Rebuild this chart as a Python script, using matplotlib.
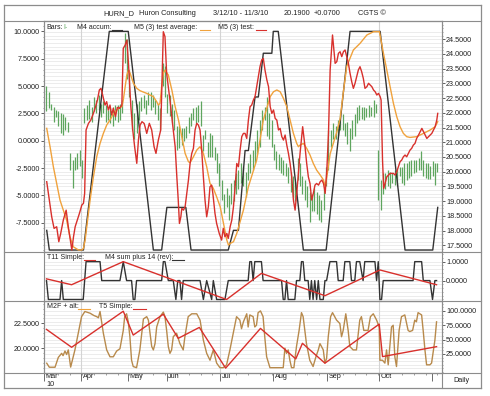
import numpy as np
import matplotlib
matplotlib.use("Agg")
import matplotlib.pyplot as plt
import matplotlib.transforms as mtransforms
from matplotlib.lines import Line2D
from matplotlib.ticker import MultipleLocator, FormatStrFormatter

plt.rcParams['font.family'] = ['Liberation Sans', 'DejaVu Sans']
FS = 5.2

# price bars, one per trading day starting 3/12/10 (right scale of top panel)
bar_high = [22.9, 22.7, 22.3, 22.2, 22.1, 22.05, 22.0, 21.95, 21.85, 21.7,
            20.65, 20.4, 20.5, 20.65, 20.75, 20.4, 22.15, 22.25, 22.45, 22.2,
            22.55, 22.45, 22.6, 22.3, 22.4, 22.25, 22.1, 22.15, 22.2, 22.25,
            22.25, 22.3, 22.45, 24.7, 24.5, 23.45, 22.45, 22.0, 22.3, 22.4,
            22.55, 22.6, 22.45, 22.7, 22.7, 22.6, 22.45, 22.3, 22.15, 23.7,
            23.6, 22.65, 22.6, 22.3, 22.1, 21.55, 21.55, 21.5,
            21.5, 21.55, 21.85, 22.0, 22.15, 22.2, 22.25, 22.4, 21.25, 21.4,
            21.0, 21.3, 21.25, 20.85, 20.65, 20.3, 19.7, 19.25, 19.45, 19.2,
            19.6, 19.7, 19.95, 20.05, 20.3, 20.15, 20.0, 20.3, 20.6, 20.75,
            21.05, 21.4, 21.75, 22.1, 22.2, 22.55, 22.0, 21.75, 20.95,
            20.7, 20.6, 20.5, 20.4,
            20.3, 20.15, 20.0, 19.85, 19.65,
            20.45, 20.3, 19.85, 19.7, 19.5,
            19.3, 19.25,
            19.45, 19.3, 19.2, 19.05, 19.4, 20.15, 21.4, 21.4, 21.65, 21.55,
            21.75, 22.0, 21.95, 21.65, 21.7, 21.5, 21.75, 21.95, 22.2, 22.25, 22.2,
            22.2, 22.15, 22.25, 22.2, 22.45, 22.3,
            20.75, 19.7, 19.95, 19.95, 20.05, 20.0, 19.95, 20.05, 20.1, 20.15,
            20.15, 20.3, 20.3, 20.35, 20.4, 20.4, 20.4, 20.45, 20.7, 20.4,
            20.3, 20.3, 20.2, 20.35, 20.3, 20.3]
bar_low = [22.05, 22.15, 22.1, 21.7, 21.85, 21.55, 21.3, 21.25, 21.4, 21.35,
           20.05, 19.45, 20.05, 20.1, 20.2, 19.8, 21.65, 21.75, 21.8, 21.7,
           22.05, 22.0, 22.1, 21.85, 22.0, 21.7, 21.75, 21.65, 21.55, 21.75,
           21.7, 21.75, 22.0, 23.7, 23.15, 22.55, 21.4, 21.1, 21.3, 21.75,
           22.05, 22.15, 21.95, 22.25, 22.1, 22.2, 21.95, 21.75, 21.4, 22.9,
           22.55, 22.0, 21.9, 21.65, 21.4, 20.75, 20.8, 20.9,
           21.05, 21.15, 21.3, 21.55, 21.75, 21.65, 21.7, 21.55, 20.7, 21.1,
           20.5, 20.5, 20.5, 20.4, 19.95, 19.5, 19.05, 18.6, 18.8, 18.35,
           18.9, 19.0, 19.25, 19.4, 19.6, 19.5, 19.15, 19.7, 19.95, 20.05,
           20.3, 20.6, 20.85, 21.4, 21.75, 21.2, 21.1, 20.85, 20.4,
           20.1, 20.05, 19.95, 19.9,
           19.85, 19.6, 19.3, 19.15, 19.0,
           19.7, 19.5, 19.25, 19.05, 18.8,
           18.3, 18.65,
           18.65, 18.55, 18.35, 18.3, 18.7, 19.5, 20.05, 20.85, 21.1, 21.1,
           21.25, 21.4, 21.4, 21.2, 20.95, 20.7, 21.1, 21.2, 21.65, 21.75, 21.8,
           21.75, 21.85, 21.85, 21.9, 21.85, 22.0,
           19.05, 18.7, 19.25, 19.4, 19.5, 19.45, 19.6, 19.55, 19.5, 19.85,
           19.6, 19.55, 19.7, 19.8, 19.85, 19.95, 20.0, 20.05, 20.05, 19.85,
           19.8, 19.75, 19.75, 19.85, 19.55, 20.0]

# top panel indicators (left scale): (day, value)
m4_accum = [(0.1, -8.2), (1.2, -10), (15.6, -10), (26.5, 10), (34.5, 10), (45.1, -10),
            (48.6, -10), (50.8, -6.1), (58.8, -6.1), (61.0, -10), (76.7, -10), (78.9, -8.2),
            (81.0, -8.2), (83.8, -0.9), (85.2, -0.9), (88.0, 4.0), (89.4, 4.0), (91.5, 8.0),
            (95.1, 8.0), (95.7, 10), (97.8, 10), (108.4, -10), (118.0, -10), (128.1, 10),
            (140.8, 10), (151.3, -10), (163.0, -10), (165.1, -6.1)]

m5_test_avg = [(0.1, 1.13), (1.5, -0.55), (2.9, -2.38), (4.3, -3.91), (5.7, -5.43), (7.1, -6.35),
               (8.5, -7.26), (9.9, -8.79), (11.3, -9.7), (13.5, -10.0), (14.9, -10.0), (15.6, -9.85),
               (16.3, -9.09), (17.0, -7.87), (18.4, -5.43), (19.8, -3.3), (21.2, -1.47), (22.6, -0.25),
               (24.0, 0.67), (25.4, 1.43), (26.8, 1.89), (28.2, 2.44), (29.6, 2.8), (31.0, 3.05),
               (31.8, 3.11), (32.4, 3.72), (33.2, 4.94), (33.9, 6.01), (34.6, 6.47), (35.3, 6.16),
               (36.7, 5.25), (38.1, 4.79), (39.5, 4.57), (41.6, 4.39), (42.3, 4.33), (45.1, 4.03),
               (46.5, 3.57), (47.2, 3.26), (47.9, 3.42), (48.6, 4.94), (49.3, 6.16), (50.0, 6.47),
               (51.4, 6.01), (52.9, 4.64), (54.3, 3.11), (55.7, 1.89), (57.1, 0.37), (58.5, -1.16),
               (59.9, -1.92), (60.6, -2.01), (62.0, -1.47), (63.4, -0.86), (64.8, -0.55), (66.2, -1.16),
               (67.6, -2.38), (69.0, -3.91), (70.4, -4.36), (71.8, -5.13), (73.3, -6.04), (74.7, -7.57),
               (76.1, -9.09), (76.8, -9.55), (77.5, -9.4), (78.9, -9.24), (80.3, -8.48), (81.7, -7.41),
               (83.1, -6.35), (85.2, -4.21), (88.7, -1.77), (91.5, 1.89), (94.4, 4.03), (95.8, 4.48),
               (97.2, 4.64), (98.6, 4.48), (100.0, 3.87), (101.4, 3.11), (102.8, 1.89), (104.2, 0.67),
               (105.6, -0.25), (106.3, -0.55), (107.0, -0.4), (108.4, -0.25), (109.8, -0.7), (111.2, -1.31),
               (112.6, -2.08), (114.0, -2.69), (115.5, -3.14), (116.9, -3.6), (117.6, -4.21), (118.3, -3.3),
               (119.7, -1.2), (121.1, -0.2), (122.5, 0.8), (123.9, 2.0), (125.3, 4.5), (126.7, 6.8),
               (129.5, 8.3), (132.3, 8.9), (135.2, 9.67), (138.0, 9.97), (140.5, 9.97), (142.2, 7.99),
               (143.6, 6.47), (145.0, 4.94), (146.4, 3.42), (147.8, 2.2), (149.2, 1.28), (150.6, 0.67),
               (152.0, 0.37), (153.4, 0.3), (156.2, 0.37), (159.1, 0.67), (161.9, 0.98), (164.0, 1.28),
               (165.1, 1.74)]

m5_test = [(0.1, -3.75), (2.2, -6.96), (3.2, -8.02), (4.3, -7.87), (5.2, -9.24), (6.0, -8.48),
           (7.1, -7.26), (8.3, -6.35), (9.2, -7.87), (10.7, -10.0), (11.4, -8.79), (12.1, -7.87),
           (13.0, -7.26), (13.9, -6.65), (14.9, -5.89), (15.6, -5.73), (16.1, -4.82), (16.7, 0.98),
           (17.7, 1.58), (18.7, 1.89), (19.8, 2.5), (20.5, 2.96), (21.5, 3.72), (22.3, 4.64),
           (23.0, 4.79), (23.7, 4.18), (24.7, 3.26), (25.4, 3.57), (26.1, 2.8), (26.8, 3.26),
           (27.5, 2.35), (28.2, 2.96), (29.1, 2.2), (29.9, 3.05), (30.8, 2.96), (31.8, 3.26),
           (32.4, 8.45), (33.2, 8.75), (33.9, 9.21), (34.6, 7.07), (35.6, 3.11), (36.4, 0.98),
           (37.2, -0.55), (38.1, -2.07), (38.8, 0.06), (39.5, 1.43), (40.3, 1.74), (41.2, 1.58),
           (41.6, 1.28), (42.3, 0.67), (43.4, 1.59), (44.4, 0.98), (45.4, -0.55), (46.2, -1.16),
           (47.2, 0.06), (48.2, 0.98), (49.3, 9.97), (50.0, 9.52), (50.7, 6.16), (51.4, 4.94),
           (52.1, 3.72), (52.9, 2.2), (53.5, 0.98), (54.3, -0.55), (55.0, -3.3), (55.6, -5.43),
           (56.1, -7.57), (56.7, -6.96), (57.1, -6.19), (57.8, -6.35), (58.5, -6.04), (59.2, -4.82),
           (59.9, -3.6), (60.6, -2.08), (61.3, -1.16), (62.0, -0.7), (62.7, 0.98), (63.4, 1.59),
           (64.1, 1.43), (64.8, 0.98), (65.5, -0.86), (66.2, -3.3), (66.9, -5.43), (67.6, -6.96),
           (68.3, -6.04), (69.0, -4.21), (69.7, -4.06), (70.2, -4.82), (71.1, -6.65), (71.8, -7.57),
           (72.9, -8.48), (73.9, -9.09), (74.6, -8.02), (75.3, -8.79), (76.1, -8.48), (76.7, -8.94),
           (77.5, -7.87), (78.2, -7.26), (78.9, -6.04), (79.6, -4.21), (80.3, -2.08), (81.0, -2.38),
           (81.7, -0.86), (82.4, 0.37), (83.1, 0.67), (83.8, 0.67), (84.5, 0.21), (85.2, 1.89),
           (85.9, 3.11), (86.6, 3.26), (87.3, 3.72), (88.0, 4.03), (88.7, 4.94), (89.4, 5.86),
           (90.1, 6.77), (90.8, 7.38), (91.5, 7.53), (92.2, 6.47), (93.0, 5.55), (93.7, 4.94),
           (94.4, 3.11), (95.1, 2.5), (95.8, 2.81), (96.5, 2.04), (97.2, 1.89), (97.9, 0.98),
           (98.6, 1.13), (99.3, 0.37), (100.0, 0.06), (100.7, 0.52), (101.4, -0.4), (102.1, -1.16),
           (102.8, -2.08), (103.5, -3.3), (104.2, -5.43), (104.9, -6.35), (105.6, -4.82), (106.3, -2.99),
           (107.0, -1.16), (108.1, 1.28), (109.1, -0.55), (109.8, -2.08), (110.5, -3.3), (111.2, -3.91),
           (111.9, -5.43), (112.6, -4.82), (113.3, -4.06), (114.0, -3.91), (114.8, -4.06), (115.5, -3.75),
           (116.2, -3.6), (116.9, -3.91), (117.6, -4.82), (118.3, -2.69), (119.0, 0.67), (119.7, 6.47),
           (120.7, 9.67), (121.8, 7.08), (122.5, 7.23), (123.2, 7.99), (123.9, 8.14), (124.6, 7.69),
           (125.3, 8.14), (126.0, 8.3), (126.7, 7.69), (127.4, 7.08), (128.1, 6.16), (128.8, 5.4),
           (129.5, 4.79), (130.2, 5.25), (130.9, 5.86), (131.6, 6.47), (132.3, 6.77), (133.0, 6.31),
           (133.7, 5.7), (134.4, 4.79), (135.2, 4.94), (135.9, 5.25), (136.6, 5.09), (137.3, 4.94),
           (138.0, 4.64), (138.7, 4.48), (139.4, 4.18), (140.1, 4.33), (140.8, 4.03), (141.2, 3.72),
           (141.8, -1.77), (142.3, -4.36), (142.9, -3.9), (143.6, -3.3), (144.3, -3.14), (145.0, -2.99),
           (146.4, -2.99), (147.1, -3.14), (147.8, -2.84), (148.5, -2.38), (149.2, -1.92), (149.9, -1.77),
           (150.6, -1.47), (151.3, -1.31), (152.0, -1.47), (152.7, -1.16), (153.4, -0.86), (154.1, -0.7),
           (154.8, -0.4), (155.5, -0.25), (156.2, 0.21), (157.0, 0.52), (157.7, 0.82), (158.4, 1.13),
           (159.1, 0.82), (159.8, 0.52), (160.5, 0.21), (161.2, 0.37), (161.9, 0.52), (162.6, 0.67),
           (163.3, 0.98), (164.0, 1.28), (164.7, 1.89), (165.1, 2.5)]

# middle panel
t11_simple = [(0, 0.09), (10.6, -0.22), (32.4, 1.0), (76.0, -1.0), (90.7, 0.38),
              (117.5, -0.8), (140.7, 0.56), (164.6, -0.22)]
m4_sum = [(0, 0), (0.8, -1), (5.7, -1), (6.4, 0), (7.1, -1), (15.5, -1), (16.7, 1), (22.6, 1),
          (23.3, 0), (31, 0), (32.4, 1), (33.8, 0), (35.9, 0), (36.6, -1), (37.3, -1), (38, 0),
          (48.6, 0), (49.3, 1), (50, 1), (51.4, 0), (53.5, 0), (54.6, -1), (55.4, 0), (56.3, 0),
          (57, -1), (57.7, 0), (64.8, 0), (66.2, -1), (67.6, 0), (69.7, -1), (70.4, 0), (71.8, -1),
          (75.3, -1), (76.7, 0), (85.1, 0), (85.8, 1), (86.5, 1), (87.2, 0), (87.9, 1), (90.7, 1),
          (91.4, 0), (99.2, 0), (99.9, -1), (100.6, -1), (101.3, 0), (102, -1), (104.8, -1), (105.5, 0),
          (106.9, 0), (107.6, 1), (108.3, 1), (109, 0), (110.4, 0), (111.1, -1), (111.8, 0), (112.5, -1),
          (113.2, 0), (114, -1), (114.7, 0), (115.4, -1), (116.8, -1), (117.5, 0), (118.2, 0), (119.6, 1),
          (122.4, 1), (123.1, 0), (125.2, 0), (125.9, 1), (128, 1), (128.7, 0), (130.1, 0), (130.8, 1),
          (132.2, 1), (133.6, 0), (134.3, 1), (138.6, 1), (139.3, 0), (140, 1), (140.7, -1), (141.4, -1),
          (142.1, 0), (154.7, 0), (155.4, 1), (158.3, 1), (159, 0), (161.8, 0), (162.9, -1), (163.9, 0),
          (164.6, 0)]

# bottom panel
t5_simple = [(0, 21.9), (10.6, 20.1), (32.4, 23.73), (36.6, 21.33), (49.3, 23.43), (55.6, 21.0),
             (64.5, 22.1), (75.6, 18.0), (90.3, 22.0), (105.2, 18.93), (108.0, 20.5), (117.5, 18.5),
             (140.4, 22.43), (141.8, 19.16), (164.6, 20.16)]
m2f_alt = [(0.1, 8.8), (1.2, 1.8), (3.6, 1.8), (5.0, 19), (6.4, 26), (7.0, 22), (7.8, 30), (8.5, 24),
           (9.2, 32), (10.2, 2), (12.0, 32), (13.4, 61), (14.8, 90), (16.2, 99), (18.4, 96), (20.0, 92),
           (21.2, 90), (21.9, 88), (22.6, 99), (24.0, 61), (25.4, 32), (26.8, 20), (28.2, 20), (29.6, 30),
           (31.0, 34), (32.4, 66), (33.0, 90), (33.8, 95), (34.5, 81), (35.2, 55), (35.9, 14), (36.6, 3),
           (38.0, 1), (39.4, 32), (40.2, 61), (40.9, 86), (42.3, 90), (43.0, 84), (43.7, 61), (44.4, 38),
           (45.1, 32), (45.8, 43), (46.5, 72), (47.9, 90), (49.3, 98), (50.0, 90), (50.7, 66), (51.4, 38),
           (52.1, 26), (52.8, 32), (53.5, 55), (54.9, 61), (56.3, 43), (57.7, 32), (58.4, 55), (59.8, 90),
           (61.3, 95), (63.4, 95), (64.8, 84), (66.2, 49), (67.6, 26), (69.0, 14), (70.4, 32), (71.8, 9),
           (73.2, 1), (74.6, 1), (76.0, 6), (77.4, 32), (78.8, 61), (80.2, 90), (81.6, 84), (82.3, 69),
           (83.1, 81), (84.5, 95), (85.1, 72), (85.8, 93), (87.2, 90), (87.9, 72), (88.6, 75), (89.3, 97),
           (90.3, 100), (91.4, 90), (92.1, 55), (92.9, 20), (94.3, 1), (99.9, 1), (100.6, 35), (101.3, 26),
           (102.0, 32), (102.7, 14), (103.4, 1), (104.4, 1), (105.5, 38), (106.6, 66), (107.6, 97), (108.3, 90),
           (109.7, 43), (111.1, 14), (112.5, 3), (113.7, 20), (114.7, 32), (115.4, 43), (116.8, 32), (117.5, 9),
           (118.2, 17), (118.9, 55), (119.9, 90), (120.7, 97), (122.4, 84), (123.8, 78), (124.5, 55), (125.2, 66),
           (126.3, 95), (127.3, 66), (128.0, 38), (129.4, 32), (130.8, 32), (132.2, 84), (132.9, 90), (133.9, 66),
           (135.7, 66), (136.7, 90), (137.9, 95), (139.3, 84), (140.4, 72), (140.7, 14), (141.8, 14), (142.8, 9),
           (143.5, 32), (144.2, 6), (145.6, 72), (146.3, 75), (147.0, 20), (147.7, 3), (148.8, 66), (149.8, 90),
           (151.2, 93), (152.6, 66), (153.3, 64), (154.5, 66), (155.4, 84), (156.1, 81), (156.8, 97), (158.3, 93),
           (159.0, 64), (159.7, 32), (160.4, 6), (161.8, 6), (162.5, 9), (163.9, 49), (164.6, 81)]

month_names = ['Mar', 'Apr', 'May', 'Jun', 'Jul', 'Aug', 'Sep', 'Oct', '']
month_pos = [-1.05, 14.6, 34.3, 50.7, 73.2, 95.7, 118.5, 140.4, 162.5]
quarter_pos = [14.6, 73.2, 140.4]

title_parts = [("HURN_D", 103.3), ("Huron Consulting", 139.3), ("3/12/10 - 11/3/10", 212.7),
               ("20.1900", 283.3), ("+0.0700", 314), ("CGTS \u00a9", 358.3)]

GREEN = '#5ea55e'
RED = '#d8302c'
ORANGE = '#f0a23c'
BROWN = '#b88a4c'
BLACK = '#333333'
FRAME = '#8c8c8c'
GRID = '#e4e4e4'

W, H = 490, 396
fig = plt.figure(figsize=(W / 100, H / 100), dpi=100)


def box(x0, y0, x1, y1):
    return [x0 / W, 1 - y1 / H, (x1 - x0) / W, (y1 - y0) / H]


def fline(x0, y0, x1, y1, c=FRAME, lw=0.9):
    fig.add_artist(Line2D([x0 / W, x1 / W], [1 - y0 / H, 1 - y1 / H],
                          color=c, lw=lw, transform=fig.transFigure))


def ftext(x, y, s, c='#222222', size=FS, **kw):
    fig.text(x / W, 1 - y / H, s, color=c, fontsize=size, va='center', **kw)


def style(a):
    for s in a.spines.values():
        s.set_color(FRAME)
        s.set_linewidth(0.8)
    a.tick_params(which='major', labelsize=FS, colors='#222222', length=2, width=0.5, pad=1)
    a.tick_params(which='minor', colors='#555555', length=1, width=0.4)


def xy(pts):
    return [p[0] for p in pts], [p[1] for p in pts]


XL = (-1.05, 166.9)

# ---------- top panel
ax = fig.add_axes(box(44, 21, 442, 252))
axr = ax.twinx()
ax.set_zorder(axr.get_zorder() + 1)
ax.patch.set_visible(False)
ax.set_xlim(*XL)
ax.set_ylim(-10.18, 10.95)
axr.set_ylim(17.27, 25.12)
for g in np.arange(17.375, 24.76, 0.125):
    axr.axhline(g, color=GRID, lw=0.5, zorder=0)
for q in quarter_pos:
    axr.axvline(q, color='#d4d4d4', lw=0.8, zorder=0)
days = np.arange(len(bar_high))
axr.vlines(days, bar_low, bar_high, colors=GREEN, lw=0.9, zorder=2)

x, y = xy(m4_accum)
ax.plot(x, y, color=BLACK, lw=1.0)
x, y = xy(m5_test_avg)
ax.plot(x, y, color=ORANGE, lw=1.0)
x, y = xy(m5_test)
ax.plot(x, y, color=RED, lw=1.0)

ax.set_yticks([-7.5, -5, -2.5, 0, 2.5, 5, 7.5, 10])
ax.yaxis.set_minor_locator(MultipleLocator(0.5))
ax.yaxis.set_major_formatter(FormatStrFormatter('%.4f'))
axr.set_yticks(np.arange(17.5, 24.6, 0.5))
axr.yaxis.set_minor_locator(MultipleLocator(0.125))
axr.yaxis.set_major_formatter(FormatStrFormatter('%.4f'))
ax.tick_params(axis='x', bottom=False, labelbottom=False)
for a in (ax, axr):
    style(a)

# ---------- middle panel
ax2 = fig.add_axes(box(44, 252, 442, 301))
ax2.set_xlim(*XL)
ax2.set_ylim(-1.08, 1.51)
for g in np.arange(-1, 1.01, 0.2):
    ax2.axhline(g, color=GRID, lw=0.5, zorder=0)
for q in quarter_pos:
    ax2.axvline(q, color='#d4d4d4', lw=0.8, zorder=0)
x, y = xy(m4_sum)
ax2.plot(x, y, color=BLACK, lw=1.0)
x, y = xy(t11_simple)
ax2.plot(x, y, color=RED, lw=1.0)
ax2.yaxis.tick_right()
ax2.set_yticks([0, 1])
ax2.yaxis.set_minor_locator(MultipleLocator(0.2))
ax2.yaxis.set_major_formatter(FormatStrFormatter('%.4f'))
ax2.tick_params(axis='x', bottom=False, labelbottom=False)
style(ax2)

# ---------- bottom panel
ax3 = fig.add_axes(box(44, 301, 442, 372.5))
ax3r = ax3.twinx()
ax3.set_zorder(ax3r.get_zorder() + 1)
ax3.patch.set_visible(False)
ax3.set_xlim(*XL)
ax3.set_ylim(17.56, 24.76)
ax3r.set_ylim(-7.4, 117.3)
for g in np.arange(0, 100.1, 6.25):
    ax3r.axhline(g, color=GRID, lw=0.5, zorder=0)
for q in quarter_pos:
    ax3r.axvline(q, color='#d4d4d4', lw=0.8, zorder=0)
x, y = xy(m2f_alt)
ax3r.plot(x, y, color=BROWN, lw=1.0)
x, y = xy(t5_simple)
ax3.plot(x, y, color=RED, lw=1.0)
ax3.set_yticks([20, 22.5])
ax3.yaxis.set_minor_locator(MultipleLocator(0.5))
ax3.yaxis.set_major_formatter(FormatStrFormatter('%.4f'))
ax3r.set_yticks([25, 50, 75, 100])
ax3r.yaxis.set_minor_locator(MultipleLocator(6.25))
ax3r.yaxis.set_major_formatter(FormatStrFormatter('%.4f'))
ax3.set_xticks(month_pos)
ax3.set_xticklabels([])
ax3.xaxis.set_minor_locator(MultipleLocator(5))
for a in (ax3, ax3r):
    style(a)
ax3.tick_params(axis='x', which='major', length=5.5, width=0.6, colors='#555555')
ax3.tick_params(axis='x', which='minor', length=1.5, width=0.4)
lab_tr = mtransforms.offset_copy(ax3.get_xaxis_transform(), fig=fig, x=1.5, y=-4.5, units='dots')
for name, p in zip(month_names, month_pos):
    ax3.text(p, 0, name, transform=lab_tr, fontsize=FS, ha='left', va='center', color='#222222')

# ---------- frame, title and legends
fline(3.5, 5, 481, 5)
fline(3.5, 387.5, 481, 387.5)
fline(3.5, 5, 3.5, 387.5)
fline(481, 5, 481, 387.5)
for yy in (20.7, 252, 301, 372.5):
    fline(3.5, yy, 481, yy, lw=0.8)
fline(442, 372.5, 442, 387.5, lw=0.8)

for s, px in title_parts:
    ftext(px, 13.6, s, ha='left', size=5.3)

LS = 5.0
ftext(46.3, 27.5, "Bars:", ha='left', size=LS)
ftext(63.0, 27.5, "I-", c=GREEN, ha='left', size=LS)
ftext(77.3, 27.5, "M4 accum:", ha='left', size=LS)
fline(111.7, 30.3, 121.7, 30.3, c=BLACK, lw=0.8)
ftext(134.3, 27.5, "M5 (3) test average:", ha='left', size=LS)
fline(200, 30.3, 210, 30.3, c=ORANGE, lw=0.8)
ftext(218.3, 27.5, "M5 (3) test:", ha='left', size=LS)
fline(256, 30.3, 266, 30.3, c=RED, lw=0.8)

ftext(46.7, 257.3, "T11 Simple:", ha='left', size=LS)
fline(84, 260, 95, 260, c=RED, lw=0.8)
ftext(105, 257.3, "M4 sum plus 14 (rev):", ha='left', size=LS)
fline(172, 260, 184, 260, c=BLACK, lw=0.8)

ftext(46.7, 306, "M2F + alt:", ha='left', size=LS)
fline(78, 308.7, 90, 308.7, c=ORANGE, lw=0.8)
ftext(99.3, 306, "T5 Simple:", ha='left', size=LS)
fline(133, 308.7, 146, 308.7, c=RED, lw=0.8)

ftext(46.5, 384, "10", ha='left')
ftext(461.5, 380, "Daily", ha='center')

fig.savefig("out.png", dpi=100)
